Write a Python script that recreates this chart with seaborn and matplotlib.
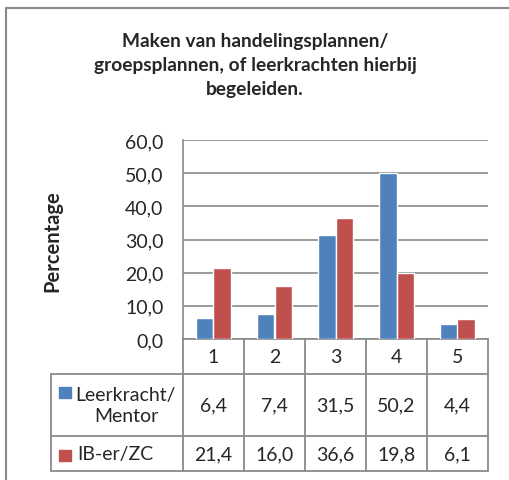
import pandas as pd
import matplotlib
matplotlib.use("Agg")
import matplotlib.pyplot as plt
import matplotlib.transforms as mtransforms
import seaborn as sns

# data
categories = ["1", "2", "3", "4", "5"]
series_names = ["Leerkracht/\nMentor", "IB-er/ZC"]
leerkracht = [6.4, 7.4, 31.5, 50.2, 4.4]
ib_er = [21.4, 16.0, 36.6, 19.8, 6.1]
colors = ["#4F81BD", "#C0504D"]
yticks = [0, 10, 20, 30, 40, 50, 60]
title = "Maken van handelingsplannen/\ngroepsplannen, of leerkrachten hierbij\nbegeleiden."

df = pd.DataFrame({
    "cat": categories * 2,
    "val": leerkracht + ib_er,
    "series": [series_names[0]] * 5 + [series_names[1]] * 5,
})

sns.set_style("white")
plt.rcParams['font.family'] = ['Lato', 'DejaVu Sans']

W, H = 510, 481
grey = "#8a8a8a"
fs = 14
fig = plt.figure(figsize=(W / 100, H / 100), dpi=100)

def fx(x):
    return x / W

def fy(y):
    return 1 - y / H

# plot area
ax = fig.add_axes([fx(183), fy(340), fx(488) - fx(183), fy(141) - fy(340)])
sns.barplot(data=df, x="cat", y="val", hue="series", palette=colors,
            width=0.56, saturation=1, ax=ax, legend=False, zorder=3)
ax.set_xlim(-0.5, 4.5)
ax.set_ylim(0, 60)
ax.set_yticks(yticks)
ax.set_yticklabels([f"{v:.1f}".replace(".", ",") for v in yticks], fontsize=fs)
ax.tick_params(axis="y", length=0, pad=14)
ax.set_xticks([])
ax.set_xlabel("")
ax.set_ylabel("")
ax.yaxis.grid(True, color=grey, lw=1.2)
ax.set_axisbelow(True)
for s in ["top", "right"]:
    ax.spines[s].set_visible(False)
for s in ["left", "bottom"]:
    ax.spines[s].set_color(grey)
    ax.spines[s].set_linewidth(1.2)

# overlay in pixel coords for title, border and data table
ov = fig.add_axes([0, 0, 1, 1], zorder=5)
ov.set_xlim(0, W)
ov.set_ylim(H, 0)
ov.axis("off")

ov.plot([6, 6], [9, H], color=grey, lw=1.5)
ov.plot([6, W], [9, 9], color=grey, lw=1.5)

ov.text(255, 66, title, ha="center", va="center", fontsize=13.8,
        fontweight="bold", linespacing=1.5)
ov.text(52, 241, "Percentage", ha="center", va="center", rotation=90,
        fontsize=14.5, fontweight="bold")

# data table, columns follow the bar axis
tr = mtransforms.blended_transform_factory(ax.transData, ov.transData)
n = len(categories)
y_axis, y_hdr, y_r1, y_r2 = 340, 375, 437, 472
left_px = 51
lw_t = 1.3
for i in range(n + 1):
    ov.plot([i - 0.5, i - 0.5], [y_axis, y_r2], color=grey, lw=lw_t, transform=tr)
ov.plot([left_px, left_px], [y_hdr, y_r2], color=grey, lw=lw_t)
x_right = ax.transData.transform((n - 0.5, 0))[0]
for yy in [y_hdr, y_r1, y_r2]:
    ov.plot([left_px, x_right], [yy, yy], color=grey, lw=lw_t)

for i, c in enumerate(categories):
    ov.text(i, (y_axis + y_hdr) / 2, c, ha="center", va="center", fontsize=fs, transform=tr)
    ov.text(i, (y_hdr + y_r1) / 2, f"{leerkracht[i]:.1f}".replace(".", ","),
            ha="center", va="center", fontsize=fs, transform=tr)
    ov.text(i, (y_r1 + y_r2) / 2, f"{ib_er[i]:.1f}".replace(".", ","),
            ha="center", va="center", fontsize=fs, transform=tr)

# legend keys in the row headers
ov.add_patch(plt.Rectangle((59, 388), 12, 11, color=colors[0]))
ov.add_patch(plt.Rectangle((59, 451), 12, 11, color=colors[1]))
ov.text(126, (y_hdr + y_r1) / 2, series_names[0], ha="center", va="center",
        fontsize=fs, linespacing=1.3)
ov.text(77, (y_r1 + y_r2) / 2, series_names[1], ha="left", va="center", fontsize=fs)

fig.savefig("out.png", dpi=100)
